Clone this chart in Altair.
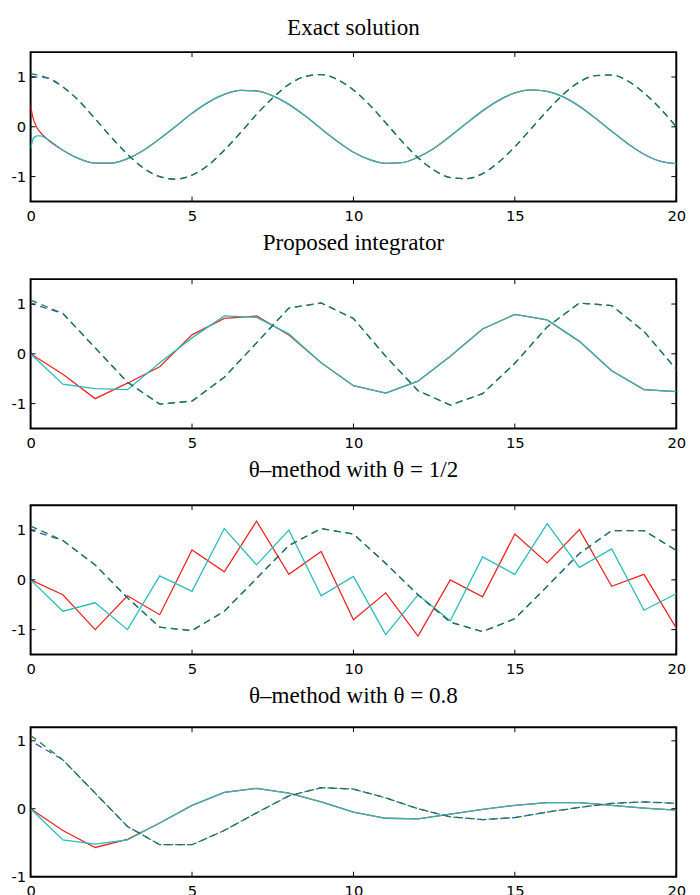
import altair as alt
import pandas as pd

# ---------------- data ----------------
XTICKS = [0, 5, 10, 15, 20]
YTICKS = [-1, 0, 1]

# Panel 1: exact solution (smooth curves)
EX_HEAD_X = [0.0, 0.05, 0.1, 0.2, 0.3]
EX_RED_HEAD = [0.42, 0.25, 0.13, -0.02, -0.11]
EX_CYAN_HEAD = [-0.44, -0.30, -0.22, -0.18, -0.18]
EX_GRID_X = [i * 0.5 for i in range(41)]
EX_SOLID = [-0.24, -0.47, -0.64, -0.73, -0.73, -0.64, -0.47, -0.24, 0.01, 0.27,
            0.49, 0.65, 0.73, 0.72, 0.62, 0.45, 0.22, -0.04, -0.29, -0.51,
            -0.66, -0.735, -0.72, -0.61, -0.43, -0.19, 0.07, 0.32, 0.53, 0.68,
            0.74, 0.71, 0.60, 0.41, 0.17, -0.09, -0.34, -0.55, -0.69, -0.74]
EX_GREEN = [1.07, 0.985, 0.80, 0.52, 0.16, -0.21, -0.55, -0.83, -1.00, -1.05,
            -0.97, -0.77, -0.47, -0.12, 0.25, 0.58, 0.85, 1.01, 1.05, 0.95,
            0.74, 0.44, 0.08, -0.29, -0.62, -0.87, -1.02, -1.04, -0.94, -0.71,
            -0.40, -0.04, 0.32, 0.65, 0.90, 1.03, 1.04, 0.92, 0.68, 0.37, 0.00]
EX_BLUE = [1.00, 0.985, 0.80, 0.52, 0.16, -0.21, -0.55, -0.83, -1.00, -1.05,
           -0.97, -0.77, -0.47, -0.12, 0.25, 0.58, 0.85, 1.01, 1.05, 0.95,
           0.74, 0.44, 0.08, -0.29, -0.62, -0.87, -1.02, -1.04, -0.94, -0.71,
           -0.40, -0.04, 0.32, 0.65, 0.90, 1.03, 1.04, 0.92, 0.68, 0.37, 0.00]

# Panels 2-4: values at integer steps
XI = list(range(21))

P2_RED = [0, -0.41, -0.90, -0.59, -0.26, 0.38, 0.71, 0.76, 0.38, -0.18, -0.64,
          -0.79, -0.55, -0.05, 0.50, 0.79, 0.68, 0.25, -0.34, -0.72, -0.76]
P2_CYAN = [0, -0.61, -0.70, -0.72, -0.18, 0.32, 0.76, 0.73, 0.40, -0.18, -0.64,
           -0.79, -0.55, -0.05, 0.50, 0.79, 0.68, 0.25, -0.34, -0.72, -0.76]
P2_GREEN = [1.08, 0.81, 0.12, -0.57, -1.01, -0.95, -0.47, 0.22, 0.92, 1.02, 0.71,
            -0.05, -0.74, -1.03, -0.80, -0.19, 0.54, 1.02, 0.97, 0.45, -0.31]
P2_BLUE = [1.01, 0.81, 0.12, -0.57, -1.01, -0.95, -0.47, 0.22, 0.92, 1.02, 0.71,
           -0.05, -0.74, -1.03, -0.80, -0.19, 0.54, 1.02, 0.97, 0.45, -0.31]

P3_RED = [0, -0.30, -1.00, -0.32, -0.70, 0.60, 0.16, 1.18, 0.11, 0.57, -0.80,
          -0.26, -1.13, 0.00, -0.34, 0.92, 0.34, 1.01, -0.13, 0.11, -0.97]
P3_CYAN = [0, -0.63, -0.46, -1.00, 0.08, -0.23, 1.03, 0.30, 1.00, -0.32, 0.07,
           -1.10, -0.30, -0.82, 0.46, 0.11, 1.13, 0.25, 0.62, -0.61, -0.28]
P3_GREEN = [1.08, 0.79, 0.30, -0.36, -0.95, -1.02, -0.63, 0.03, 0.69, 1.03, 0.92,
            0.33, -0.30, -0.85, -1.04, -0.78, -0.13, 0.53, 0.99, 0.99, 0.59]
P3_BLUE = [1.00, 0.79, 0.30, -0.36, -0.95, -1.02, -0.63, 0.03, 0.69, 1.03, 0.92,
           0.33, -0.30, -0.85, -1.04, -0.78, -0.13, 0.53, 0.99, 0.99, 0.59]

P4_RED = [0, -0.32, -0.57, -0.45, -0.21, 0.05, 0.24, 0.30, 0.23, 0.10, -0.05,
          -0.14, -0.15, -0.08, -0.01, 0.05, 0.09, 0.09, 0.05, 0.01, -0.02]
P4_CYAN = [0, -0.46, -0.52, -0.46, -0.21, 0.05, 0.24, 0.30, 0.23, 0.10, -0.05,
           -0.14, -0.15, -0.08, -0.01, 0.05, 0.09, 0.09, 0.05, 0.01, -0.02]
P4_GREEN = [1.08, 0.72, 0.23, -0.26, -0.53, -0.53, -0.32, -0.06, 0.19, 0.31, 0.29,
            0.16, 0.00, -0.12, -0.16, -0.13, -0.05, 0.02, 0.08, 0.10, 0.08]
P4_BLUE = [1.00, 0.72, 0.23, -0.26, -0.53, -0.53, -0.32, -0.06, 0.19, 0.31, 0.29,
           0.16, 0.00, -0.12, -0.16, -0.13, -0.05, 0.02, 0.08, 0.10, 0.08]

TITLES = ["Exact solution", "Proposed integrator",
          "\u03b8\u2013method with \u03b8 = 1/2", "\u03b8\u2013method with \u03b8 = 0.8"]

# ---------------- styling ----------------
W, H = 657, 152
RED, CYAN, GREEN, BLUE = "#ee2424", "#26bcbc", "#1d7a4e", "#3a5cc0"
LW = 1.3
DASH = [7, 5]


def frame(series):
    rows = []
    for name, xs, ys in series:
        for x, y in zip(xs, ys):
            rows.append({"s": name, "x": x, "y": y})
    return pd.DataFrame(rows)


def panel(title, offset, df, ydom, dash_off, interp):
    X = alt.X("x:Q", scale=alt.Scale(domain=[0, 20], nice=False, zero=False),
              axis=alt.Axis(values=XTICKS, title=None, grid=False, ticks=False,
                            domain=False, labelFont="DejaVu Sans", labelFontSize=15,
                            labelColor="black", labelPadding=7, labelFlush=False,
                            labelOverlap=False))
    Y = alt.Y("y:Q", scale=alt.Scale(domain=ydom, nice=False, zero=False),
              axis=alt.Axis(values=YTICKS, title=None, grid=False, ticks=False,
                            domain=False, labelFont="DejaVu Sans", labelFontSize=15,
                            labelColor="black", labelPadding=5, labelFlush=False,
                            labelOverlap=False,
                            labelExpr="replace(datum.label, '\u2212', '-')"))
    base = alt.Chart(df)
    layers = []
    for name, col in [("red", RED), ("cyan", CYAN)]:
        layers.append(base.transform_filter(alt.datum.s == name)
                      .mark_line(color=col, strokeWidth=LW, clip=True, interpolate=interp)
                      .encode(x=X, y=Y))
    layers.append(base.transform_filter(alt.datum.s == "blue")
                  .mark_line(color=BLUE, strokeWidth=LW, clip=True, interpolate=interp,
                             strokeDash=DASH, strokeDashOffset=dash_off)
                  .encode(x=X, y=Y))
    layers.append(base.transform_filter(alt.datum.s == "green")
                  .mark_line(color=GREEN, strokeWidth=LW, clip=True, interpolate=interp,
                             strokeDash=DASH)
                  .encode(x=X, y=Y))
    xt = alt.Chart(pd.DataFrame({"x": XTICKS}))
    yt = alt.Chart(pd.DataFrame({"y": YTICKS}))
    layers.append(xt.mark_rule(color="black", strokeWidth=1)
                  .encode(x=X, y=alt.value(0), y2=alt.value(5)))
    layers.append(xt.mark_rule(color="black", strokeWidth=1)
                  .encode(x=X, y=alt.value(H - 5), y2=alt.value(H)))
    layers.append(yt.mark_rule(color="black", strokeWidth=1)
                  .encode(y=Y, x=alt.value(0), x2=alt.value(5)))
    layers.append(yt.mark_rule(color="black", strokeWidth=1)
                  .encode(y=Y, x=alt.value(W - 5), x2=alt.value(W)))
    return alt.layer(*layers).properties(
        width=W, height=H,
        title=alt.TitleParams(text=title, offset=offset, baseline="alphabetic",
                              font="Liberation Serif", fontSize=23.5,
                              fontWeight="normal", anchor="middle", color="black"))


df1 = frame([("red", EX_HEAD_X + EX_GRID_X[1:], EX_RED_HEAD + EX_SOLID),
             ("cyan", EX_HEAD_X + EX_GRID_X[1:], EX_CYAN_HEAD + EX_SOLID),
             ("blue", EX_GRID_X, EX_BLUE),
             ("green", EX_GRID_X, EX_GREEN)])
df2 = frame([("red", XI, P2_RED), ("cyan", XI, P2_CYAN),
             ("blue", XI, P2_BLUE), ("green", XI, P2_GREEN)])
df3 = frame([("red", XI, P3_RED), ("cyan", XI, P3_CYAN),
             ("blue", XI, P3_BLUE), ("green", XI, P3_GREEN)])
df4 = frame([("red", XI, P4_RED), ("cyan", XI, P4_CYAN),
             ("blue", XI, P4_BLUE), ("green", XI, P4_GREEN)])

chart = alt.vconcat(
    panel(TITLES[0], -7, df1, [-1.5, 1.5], 0, "monotone"),
    panel(TITLES[1], 6, df2, [-1.5, 1.5], 2, "linear"),
    panel(TITLES[2], 5, df3, [-1.5, 1.5], 2, "linear"),
    panel(TITLES[3], 1, df4, [-1, 1.2], 6, "linear"),
    spacing=6,
).properties(
    padding={"left": 2, "top": 0, "right": 5, "bottom": 0}
).configure_view(stroke="black", strokeWidth=2)

chart.save("out.html", embed_options={"renderer": "svg", "actions": False})
